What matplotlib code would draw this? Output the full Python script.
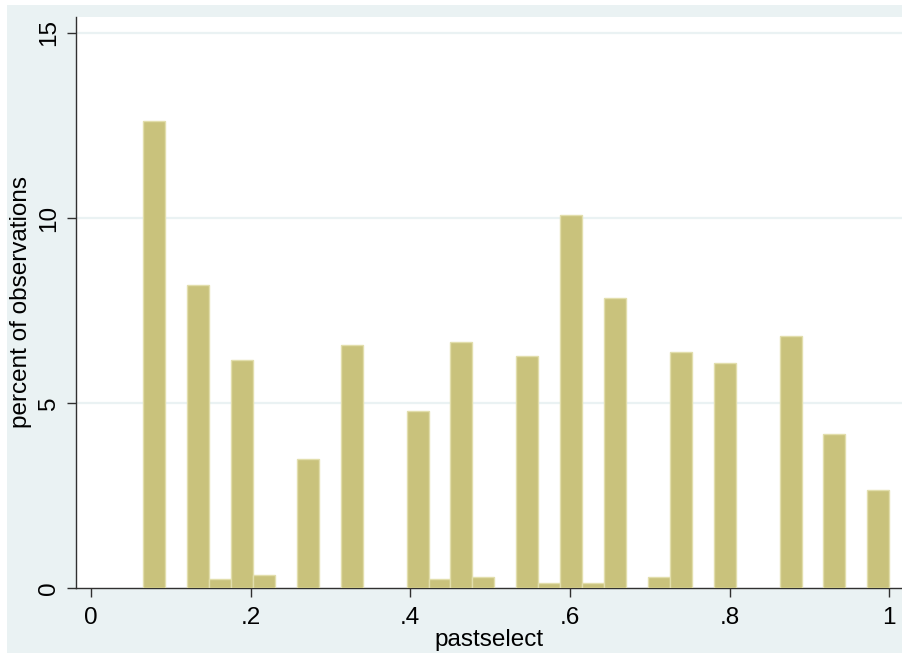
import numpy as np
import matplotlib
matplotlib.use('Agg')
import matplotlib.pyplot as plt
from matplotlib.patches import Rectangle

# histogram of pastselect: 34 bins from the minimum value up to 1
bin_start = 0.0655
bin_end = 1.0
n_bins = 34
percent = [12.62, 0, 8.19, 0.24, 6.16, 0.34, 0, 3.49, 0, 6.57,
           0, 0, 4.78, 0.24, 6.65, 0.29, 0, 6.27, 0.13, 10.08,
           0.13, 7.85, 0, 0.29, 6.38, 0, 6.07, 0, 0, 6.80,
           0, 4.16, 0, 2.64]
x_ticks = [0, 0.2, 0.4, 0.6, 0.8, 1.0]
x_labels = ['0', '.2', '.4', '.6', '.8', '1']
y_ticks = [0, 5, 10, 15]

plt.rcParams['font.family'] = ['Liberation Sans', 'DejaVu Sans']
bg = '#EAF2F3'
axis_col = '#303030'

fig = plt.figure(figsize=(9.02, 6.53), dpi=100, facecolor='white')
# outer graph region (light blue-gray), leaving a thin white border top/left
fig.patches.append(Rectangle((7 / 902, 0), 1, 1 - 5 / 653, transform=fig.transFigure,
                             facecolor=bg, edgecolor='none', zorder=-10))

ax = fig.add_axes([76 / 902, 1 - 588 / 653, (902 - 76) / 902, (588 - 17) / 653])
ax.set_facecolor('white')

edges = np.linspace(bin_start, bin_end, n_bins + 1)
width = edges[1] - edges[0]
heights = np.array(percent)
keep = heights > 0
ax.bar(edges[:-1][keep], heights[keep], width=width, align='edge',
       color='#C9C27C', edgecolor='#E2DEAC', linewidth=1.0, zorder=3)

ax.set_xlim(-0.0188, (902 - 91) / 798.3)
ax.set_ylim(0, (588 - 17) / 37.0)

ax.set_xticks(x_ticks)
ax.set_xticklabels(x_labels)
ax.set_yticks(y_ticks)
ax.set_yticklabels([str(t) for t in y_ticks], rotation=90, va='center')

for t in y_ticks[1:]:
    ax.axhline(t, color=bg, linewidth=1.6, zorder=1)

for s in ['top', 'right']:
    ax.spines[s].set_visible(False)
for s in ['left', 'bottom']:
    ax.spines[s].set_color(axis_col)
    ax.spines[s].set_linewidth(1.0)

ax.tick_params(axis='both', direction='out', length=6.5, width=1.0,
               color=axis_col, labelsize=17.5, labelcolor='black')
ax.tick_params(axis='x', pad=7)
ax.tick_params(axis='y', pad=5)

ax.set_xlabel('pastselect', fontsize=17.5, labelpad=0)
ax.set_ylabel('percent of observations', fontsize=17.5, labelpad=4)

fig.savefig('out.png', dpi=100, facecolor=fig.get_facecolor())
